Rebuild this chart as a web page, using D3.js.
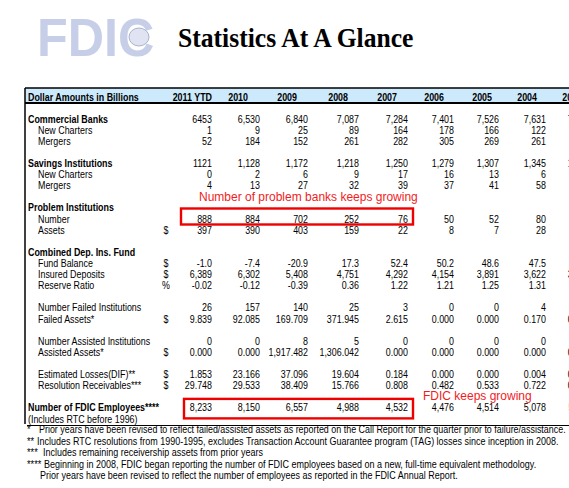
<!DOCTYPE html>
<html><head><meta charset="utf-8">
<script src="https://cdn.jsdelivr.net/npm/d3@7"></script>
<style>body{margin:0;background:#fff;overflow:hidden}svg{display:block}</style>
</head><body><svg id="c" width="569" height="488"></svg>
<script>
// ---------- data ----------
const years = ["2011 YTD","2010","2009","2008","2007","2006","2005","2004","2003"];
const commercialBanks  = ["6453","6,530","6,840","7,087","7,284","7,401","7,526","7,631","7,769"];
const cbNewCharters    = ["1","9","25","89","164","178","166","122","110"];
const cbMergers        = ["52","184","152","261","282","305","269","261","225"];
const savingsInst      = ["1121","1,128","1,172","1,218","1,250","1,279","1,307","1,345","1,413"];
const siNewCharters    = ["0","2","6","9","17","16","13","6","6"];
const siMergers        = ["4","13","27","32","39","37","41","58","40"];
const problemNumber    = ["888","884","702","252","76","50","52","80","116"];
const problemAssets    = ["397","390","403","159","22","8","7","28","30"];
const fundBalance      = ["-1.0","-7.4","-20.9","17.3","52.4","50.2","48.6","47.5","46.0"];
const insuredDeposits  = ["6,389","6,302","5,408","4,751","4,292","4,154","3,891","3,622","3,452"];
const reserveRatio     = ["-0.02","-0.12","-0.39","0.36","1.22","1.21","1.25","1.31","1.33"];
const numFailed        = ["26","157","140","25","3","0","0","4","3"];
const failedAssets     = ["9.839","92.085","169.709","371.945","2.615","0.000","0.000","0.170","0.947"];
const numAssisted      = ["0","0","8","5","0","0","0","0","0"];
const assistedAssets   = ["0.000","0.000","1,917.482","1,306.042","0.000","0.000","0.000","0.000","0.000"];
const estLosses        = ["1.853","23.166","37.096","19.604","0.184","0.000","0.000","0.004","0.063"];
const resolutionRecv   = ["29.748","29.533","38.409","15.766","0.808","0.482","0.533","0.722","0.839"];
const fdicEmployees    = ["8,233","8,150","6,557","4,988","4,532","4,476","4,514","5,078","5,311"];
const footnotes = [
  ["*","Prior years have been revised to reflect failed/assisted assets as reported on the Call Report for the quarter prior to failure/assistance."],
  ["**","Includes RTC resolutions from 1990-1995, excludes Transaction Account Guarantee program (TAG) losses since inception in 2008."],
  ["***","Includes remaining receivership assets from prior years"],
  ["****","Beginning in 2008, FDIC began reporting the number of FDIC employees based on a new, full-time equivalent methodology."],
  ["","Prior years have been revised to reflect the number of employees as reported in the FDIC Annual Report."]
];

// ---------- layout ----------
const W = 569, H = 488;
const colRight = [212,260,308,359,408,454,499,546,590];
const headerShift = [0,12,11,11,11,10,7,9,8];
const footX = [39,37,43,44,40];
const footEnd = [566,559,263,537,458];
const x = d3.scaleOrdinal(years, colRight);
const hx = d3.scaleOrdinal(years, colRight.map((v,i)=>v-headerShift[i]));
const y = d3.scaleLinear().domain([0,27]).range([119,419]);
const SX = 0.89;
const FONT = "'Liberation Sans', Arial, sans-serif";

const rows = [
  {slot:0,  label:"Commercial Banks", bold:true, vals:commercialBanks},
  {slot:1,  label:"New Charters", indent:true, vals:cbNewCharters},
  {slot:2,  label:"Mergers", indent:true, vals:cbMergers},
  {slot:4,  label:"Savings Institutions", bold:true, vals:savingsInst},
  {slot:5,  label:"New Charters", indent:true, vals:siNewCharters},
  {slot:6,  label:"Mergers", indent:true, vals:siMergers},
  {slot:8,  label:"Problem Institutions", bold:true},
  {slot:9,  label:"Number", indent:true, vals:problemNumber},
  {slot:10, label:"Assets", indent:true, unit:"$", vals:problemAssets},
  {slot:12, label:"Combined Dep. Ins. Fund", bold:true},
  {slot:13, label:"Fund Balance", indent:true, unit:"$", vals:fundBalance},
  {slot:14, label:"Insured Deposits", indent:true, unit:"$", vals:insuredDeposits},
  {slot:15, label:"Reserve Ratio", indent:true, unit:"%", vals:reserveRatio},
  {slot:17, label:"Number Failed Institutions", indent:true, vals:numFailed},
  {slot:18, label:"Failed Assets*", indent:true, unit:"$", vals:failedAssets},
  {slot:20, label:"Number Assisted Institutions", indent:true, vals:numAssisted},
  {slot:21, label:"Assisted Assets*", indent:true, unit:"$", vals:assistedAssets},
  {slot:23, label:"Estimated Losses(DIF)**", indent:true, unit:"$", vals:estLosses},
  {slot:24, label:"Resolution Receivables***", indent:true, unit:"$", vals:resolutionRecv},
  {slot:26, label:"Number of FDIC Employees****", bold:true, vals:fdicEmployees},
  {slot:27, label:"(Includes RTC before 1996)"}
];

const svg = d3.select("#c");
svg.append("rect").attr("width",W).attr("height",H).attr("fill","#fff");

function txt(g, s, px, py, opt={}) {
  return g.append("text")
    .attr("transform", `translate(${px},${py}) scale(${opt.sx ?? SX},1)`)
    .attr("text-anchor", opt.anchor || "start")
    .attr("font-family", opt.family || FONT)
    .attr("font-size", opt.size || 10)
    .attr("font-weight", opt.bold ? "bold" : "normal")
    .attr("fill", opt.fill || "#000")
    .text(s);
}

// logo
const logo = svg.append("g");
txt(logo, "FDIC", 37, 56, {size:53, bold:true, fill:"#c7cfe8", sx:0.95});
logo.append("ellipse").attr("cx",139).attr("cy",37).attr("rx",10).attr("ry",9)
  .attr("fill","#dfe3f2").attr("stroke","#aab2cf").attr("stroke-width",1);

// title
txt(svg, "Statistics At A Glance", 178, 47, {family:"'Liberation Serif','Times New Roman',serif", size:28, bold:true, sx:0.915});

// table frame
svg.append("rect").attr("x",25).attr("y",88).attr("width",W-25).attr("height",15).attr("fill","#cdeafc");
svg.append("line").attr("x1",25).attr("x2",W).attr("y1",88).attr("y2",88).attr("stroke","#000").attr("stroke-width",1.5);
svg.append("line").attr("x1",25).attr("x2",W).attr("y1",103).attr("y2",103).attr("stroke","#000").attr("stroke-width",1.8);
svg.append("line").attr("x1",25).attr("x2",25).attr("y1",88).attr("y2",424).attr("stroke","#000").attr("stroke-width",1.5);
svg.append("line").attr("x1",27).attr("x2",W).attr("y1",425.5).attr("y2",425.5).attr("stroke","#000").attr("stroke-width",1.2);

// header
const head = svg.append("g");
txt(head, "Dollar Amounts in Billions", 28, 100.5, {bold:true});
years.forEach(yr => txt(head, yr, hx(yr), 100.5, {bold:true, anchor:"end"}));

// rows
const body = svg.append("g");
rows.forEach(r => {
  const by = y(r.slot) + 3.6;
  txt(body, r.label, r.indent ? 38 : 28, by, {bold:r.bold});
  if (r.unit) txt(body, r.unit, 166, by, {anchor:"middle"});
  if (r.vals) r.vals.forEach((v,i) => txt(body, v, x(years[i]), by, {anchor:"end"}));
});

// red annotations
const red = "#f01c24";
const ann = svg.append("g");
const yNum = y(9), yEmp = y(26);
ann.append("rect").attr("x", x(years[0]) - 31).attr("y", yNum - 10.5)
  .attr("width", x(years[4]) + 5 - (x(years[0]) - 31)).attr("height", 16)
  .attr("fill","none").attr("stroke","#ee0000").attr("stroke-width",2.4);
ann.append("rect").attr("x", x(years[0]) - 28).attr("y", yEmp - 9)
  .attr("width", x(years[4]) + 5 - (x(years[0]) - 28)).attr("height", 19.5)
  .attr("fill","none").attr("stroke","#ee0000").attr("stroke-width",2.4);
txt(ann, "Number of problem banks keeps growing", 199, y(7) + 4.4, {size:12, fill:red, sx:1});
txt(ann, "FDIC keeps growing", 423, yEmp - 12 + 4.4, {size:12, fill:red, sx:1});

// footnotes (each line fitted horizontally to its span in the reference)
const foot = svg.append("g");
footnotes.forEach((f,i) => {
  const by = 429.5 + i*11.5 + 3.6;
  if (f[0]) txt(foot, f[0], 27, by, {sx:0.92});
  const t = txt(foot, f[1], footX[i], by, {sx:1});
  const len = t.node().getComputedTextLength();
  const s = (footEnd[i] - footX[i]) / len;
  t.attr("transform", `translate(${footX[i]},${by}) scale(${s},1)`);
});
</script></body></html>
